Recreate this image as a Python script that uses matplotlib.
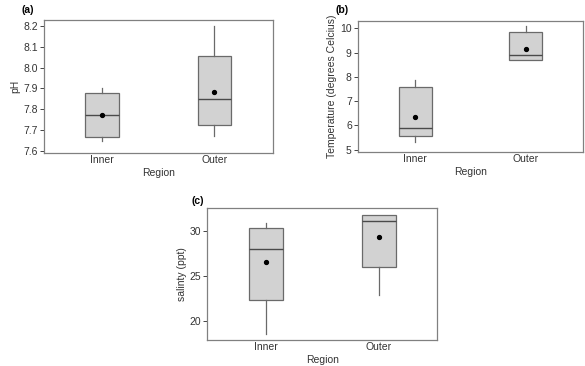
import matplotlib
matplotlib.use("Agg")
import matplotlib.pyplot as plt

plt.rcParams['font.family'] = ['Liberation Sans', 'DejaVu Sans']

regions = ["Inner", "Outer"]

# five-number summaries + means
ph_low = [7.647, 7.671]
ph_q1 = [7.667, 7.725]
ph_med = [7.77, 7.85]
ph_q3 = [7.88, 8.056]
ph_high = [7.90, 8.20]
ph_mean = [7.77, 7.884]

temp_low = [5.33, 8.68]
temp_q1 = [5.55, 8.68]
temp_med = [5.88, 8.89]
temp_q3 = [7.60, 9.84]
temp_high = [7.87, 10.09]
temp_mean = [6.33, 9.16]

sal_low = [18.6, 22.96]
sal_q1 = [22.33, 26.05]
sal_med = [28.0, 31.1]
sal_q3 = [30.3, 31.73]
sal_high = [30.92, 31.8]
sal_mean = [26.53, 29.34]

EDGE = "#6a6a6a"


def draw_panel(ax, low, q1, med, q3, high, mean, yticks, ylim, ylabel, tag):
    stats = []
    for i, name in enumerate(regions):
        stats.append(dict(label=name, whislo=low[i], q1=q1[i], med=med[i],
                          q3=q3[i], whishi=high[i], mean=mean[i]))
    ax.bxp(stats, positions=[1, 2], widths=0.3, showcaps=False, showfliers=False,
           showmeans=True, patch_artist=True,
           boxprops=dict(facecolor="#d2d2d2", edgecolor=EDGE, linewidth=0.9),
           whiskerprops=dict(color=EDGE, linewidth=0.9),
           medianprops=dict(color="#4a4a4a", linewidth=1.0),
           meanprops=dict(marker="o", markerfacecolor="black",
                          markeredgecolor="black", markersize=2.8))
    ax.set_xlim(0.48, 2.52)
    ax.set_ylim(*ylim)
    ax.set_yticks(yticks)
    ax.set_xlabel("Region", fontsize=7.5, color="#333333", labelpad=2)
    ax.set_ylabel(ylabel, fontsize=7.5, color="#333333", labelpad=2)
    ax.tick_params(labelsize=7.5, length=3, width=0.7, colors="#444444",
                   labelcolor="#333333", pad=1.5)
    ax.tick_params(axis="x", length=0)
    for s in ax.spines.values():
        s.set_color("#808080")
        s.set_linewidth(0.9)
    ax.text(-0.1, 1.04, tag, transform=ax.transAxes, fontsize=7.5,
            fontweight="bold", ha="left", va="bottom")


fig = plt.figure(figsize=(5.85, 3.66), dpi=100)

ax_a = fig.add_axes([0.0752, 0.582, 0.391, 0.363])
draw_panel(ax_a, ph_low, ph_q1, ph_med, ph_q3, ph_high, ph_mean,
           [7.6, 7.7, 7.8, 7.9, 8.0, 8.1, 8.2], (7.589, 8.229), "pH", "(a)")
ax_a.set_yticklabels(["7.6", "7.7", "7.8", "7.9", "8.0", "8.1", "8.2"])

ax_b = fig.add_axes([0.612, 0.5855, 0.3846, 0.358])
draw_panel(ax_b, temp_low, temp_q1, temp_med, temp_q3, temp_high, temp_mean,
           [5, 6, 7, 8, 9, 10], (4.92, 10.31), "Temperature (degrees Celcius)", "(b)")

ax_c = fig.add_axes([0.3544, 0.071, 0.393, 0.36])
draw_panel(ax_c, sal_low, sal_q1, sal_med, sal_q3, sal_high, sal_mean,
           [20, 25, 30], (17.93, 32.51), "salinty (ppt)", "(c)")
ax_c.texts[-1].set_position((-0.07, 1.02))

fig.savefig("out.png", dpi=100)
